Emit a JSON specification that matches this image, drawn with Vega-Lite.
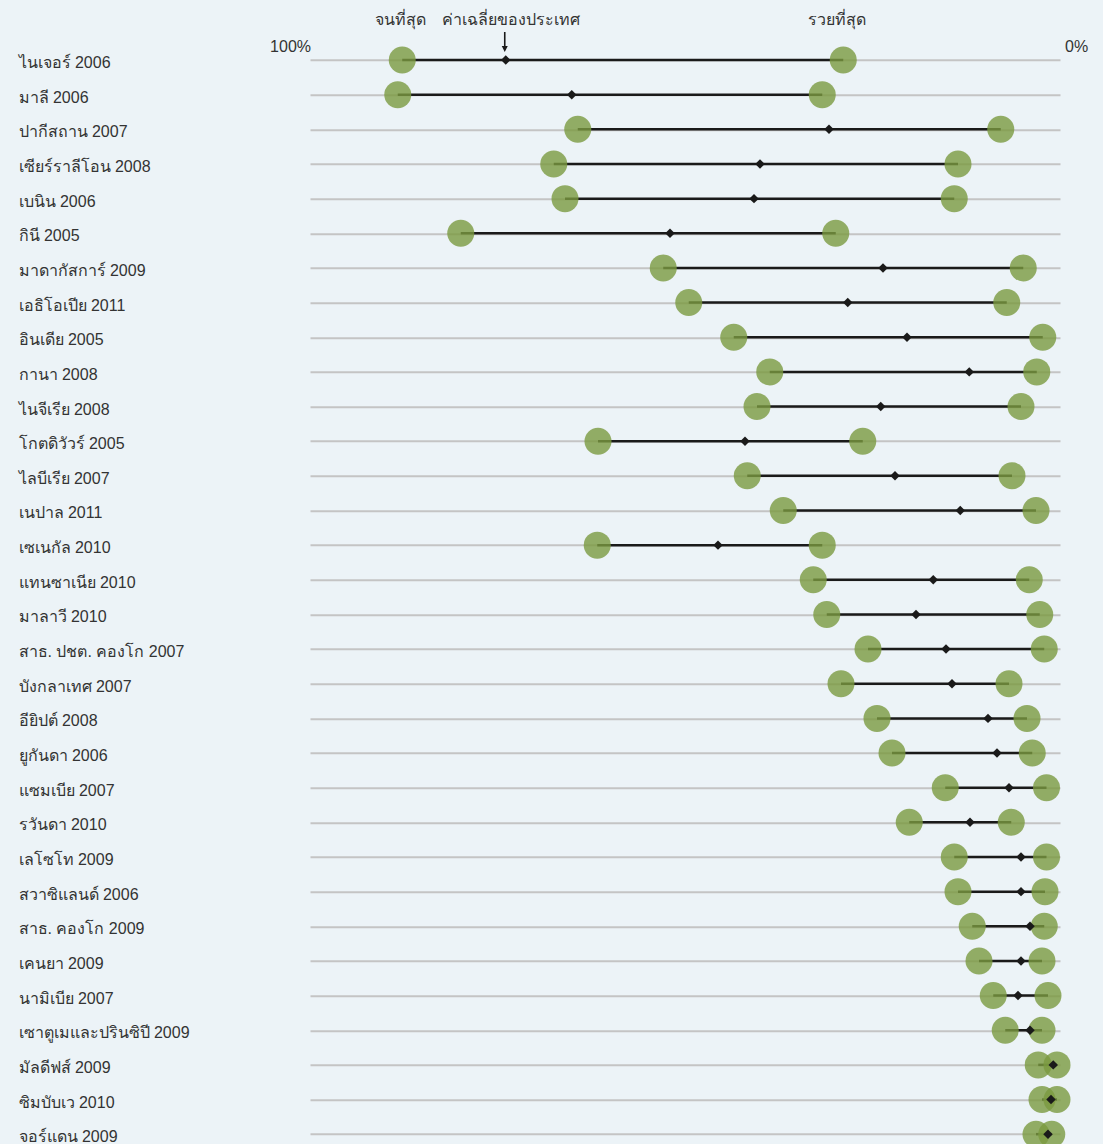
{
  "$schema": "https://vega.github.io/schema/vega-lite/v6.json",
  "autosize": {"type": "none"},
  "padding": {"left": 310, "top": 42.7, "right": 43, "bottom": 0},
  "width": 750,
  "height": 1108.8,
  "background": "#ecf3f7",
  "config": {
    "view": {"stroke": null},
    "font": "Liberation Sans",
    "text": {"font": "Liberation Sans", "color": "#333333"}
  },
  "datasets": {
    "rows": [
      {"country": "ไนเจอร์ 2006", "poor": 87.7, "avg": 73.9, "rich": 28.9},
      {"country": "มาลี 2006", "poor": 88.3, "avg": 65.1, "rich": 31.7},
      {"country": "ปากีสถาน 2007", "poor": 64.3, "avg": 30.8, "rich": 7.9},
      {"country": "เซียร์ราลีโอน 2008", "poor": 67.5, "avg": 40.0, "rich": 13.6},
      {"country": "เบนิน 2006", "poor": 66.0, "avg": 40.8, "rich": 14.1},
      {"country": "กินี 2005", "poor": 79.9, "avg": 52.0, "rich": 29.9},
      {"country": "มาดากัสการ์ 2009", "poor": 52.9, "avg": 23.6, "rich": 4.9},
      {"country": "เอธิโอเปีย 2011", "poor": 49.5, "avg": 28.3, "rich": 7.1},
      {"country": "อินเดีย 2005", "poor": 43.5, "avg": 20.4, "rich": 2.3},
      {"country": "กานา 2008", "poor": 38.7, "avg": 12.1, "rich": 3.1},
      {"country": "ไนจีเรีย 2008", "poor": 40.4, "avg": 23.9, "rich": 5.2},
      {"country": "โกตดิวัวร์ 2005", "poor": 61.6, "avg": 42.0, "rich": 26.3},
      {"country": "ไลบีเรีย 2007", "poor": 41.7, "avg": 22.0, "rich": 6.4},
      {"country": "เนปาล 2011", "poor": 36.9, "avg": 13.3, "rich": 3.2},
      {"country": "เซเนกัล 2010", "poor": 61.7, "avg": 45.6, "rich": 31.7},
      {"country": "แทนซาเนีย 2010", "poor": 32.9, "avg": 16.9, "rich": 4.1},
      {"country": "มาลาวี 2010", "poor": 31.1, "avg": 19.2, "rich": 2.7},
      {"country": "สาธ. ปชต. คองโก 2007", "poor": 25.6, "avg": 15.2, "rich": 2.1},
      {"country": "บังกลาเทศ 2007", "poor": 29.2, "avg": 14.4, "rich": 6.8},
      {"country": "อียิปต์ 2008", "poor": 24.4, "avg": 9.6, "rich": 4.4},
      {"country": "ยูกันดา 2006", "poor": 22.4, "avg": 8.4, "rich": 3.7},
      {"country": "แซมเบีย 2007", "poor": 15.3, "avg": 6.8, "rich": 1.8},
      {"country": "รวันดา 2010", "poor": 20.1, "avg": 12.0, "rich": 6.5},
      {"country": "เลโซโท 2009", "poor": 14.1, "avg": 5.2, "rich": 1.8},
      {"country": "สวาซิแลนด์ 2006", "poor": 13.6, "avg": 5.2, "rich": 2.0},
      {"country": "สาธ. คองโก 2009", "poor": 11.7, "avg": 4.0, "rich": 2.1},
      {"country": "เคนยา 2009", "poor": 10.8, "avg": 5.2, "rich": 2.4},
      {"country": "นามิเบีย 2007", "poor": 8.9, "avg": 5.6, "rich": 1.6},
      {"country": "เซาตูเมและปรินซิปี 2009", "poor": 7.3, "avg": 4.0, "rich": 2.4},
      {"country": "มัลดีฟส์ 2009", "poor": 2.9, "avg": 0.9, "rich": 0.4},
      {"country": "ซิมบับเว 2010", "poor": 2.4, "avg": 1.2, "rich": 0.4},
      {"country": "จอร์แดน 2009", "poor": 3.2, "avg": 1.6, "rich": 1.1}
    ],
    "ends": [
      {"v": 100, "t": "100%", "country": "ไนเจอร์ 2006"},
      {"v": 0, "t": "0%", "country": "ไนเจอร์ 2006"}
    ]
  },
  "data": {"name": "rows"},
  "encoding": {
    "y": {
      "field": "country",
      "type": "nominal",
      "sort": null,
      "scale": {"type": "point", "padding": 0.5},
      "axis": {
        "title": null,
        "domain": false,
        "ticks": false,
        "labelAlign": "left",
        "labelPadding": 292,
        "labelOffset": 2.5,
        "labelFontSize": 16,
        "labelColor": "#333333",
        "labelFont": "Liberation Sans",
        "labelLimit": 0,
        "grid": true,
        "gridColor": "#c4c4c4",
        "gridWidth": 2
      }
    }
  },
  "layer": [
    {
      "mark": {"type": "rule", "color": "#1a1a1a", "strokeWidth": 2.5},
      "encoding": {
        "x": {"field": "poor", "type": "quantitative", "scale": {"domain": [0, 100], "reverse": true}, "axis": null},
        "x2": {"field": "rich"}
      }
    },
    {
      "mark": {"type": "circle", "size": 729, "color": "#7b9a40", "opacity": 0.8},
      "encoding": {
        "x": {"field": "poor", "type": "quantitative"}
      }
    },
    {
      "mark": {"type": "circle", "size": 729, "color": "#7b9a40", "opacity": 0.8},
      "encoding": {
        "x": {"field": "rich", "type": "quantitative"}
      }
    },
    {
      "mark": {"type": "point", "shape": "diamond", "filled": true, "size": 90, "color": "#1a1a1a", "opacity": 1},
      "encoding": {
        "x": {"field": "avg", "type": "quantitative"}
      }
    },
    {
      "transform": [{"filter": "datum.country == 'ไนเจอร์ 2006'"}],
      "mark": {"type": "text", "fontSize": 16, "dy": -40, "dx": -2, "baseline": "middle", "align": "center"},
      "encoding": {
        "x": {"field": "poor", "type": "quantitative"},
        "text": {"value": "จนที่สุด"}
      }
    },
    {
      "transform": [{"filter": "datum.country == 'ไนเจอร์ 2006'"}],
      "mark": {"type": "text", "fontSize": 16, "dy": -40, "dx": 5, "baseline": "middle", "align": "center"},
      "encoding": {
        "x": {"field": "avg", "type": "quantitative"},
        "text": {"value": "ค่าเฉลี่ยของประเทศ"}
      }
    },
    {
      "transform": [{"filter": "datum.country == 'ไนเจอร์ 2006'"}],
      "mark": {"type": "point", "shape": "M-0.08,-1L0.08,-1L0.08,0.4L0.3,0.4L0,1L-0.3,0.4L-0.08,0.4Z", "filled": true, "size": 400, "color": "#1a1a1a", "opacity": 1, "yOffset": -18, "xOffset": -1},
      "encoding": {
        "x": {"field": "avg", "type": "quantitative"}
      }
    },
    {
      "transform": [{"filter": "datum.country == 'ไนเจอร์ 2006'"}],
      "mark": {"type": "text", "fontSize": 16, "dy": -40, "dx": -6, "baseline": "middle", "align": "center"},
      "encoding": {
        "x": {"field": "rich", "type": "quantitative"},
        "text": {"value": "รวยที่สุด"}
      }
    },
    {
      "data": {"name": "ends"},
      "mark": {"type": "text", "fontSize": 16, "dy": -13, "baseline": "middle", "align": {"expr": "datum.v == 100 ? 'right' : 'left'"}, "dx": {"expr": "datum.v == 100 ? 1 : 5"}},
      "encoding": {
        "x": {"field": "v", "type": "quantitative"},
        "text": {"field": "t"}
      }
    }
  ]
}
